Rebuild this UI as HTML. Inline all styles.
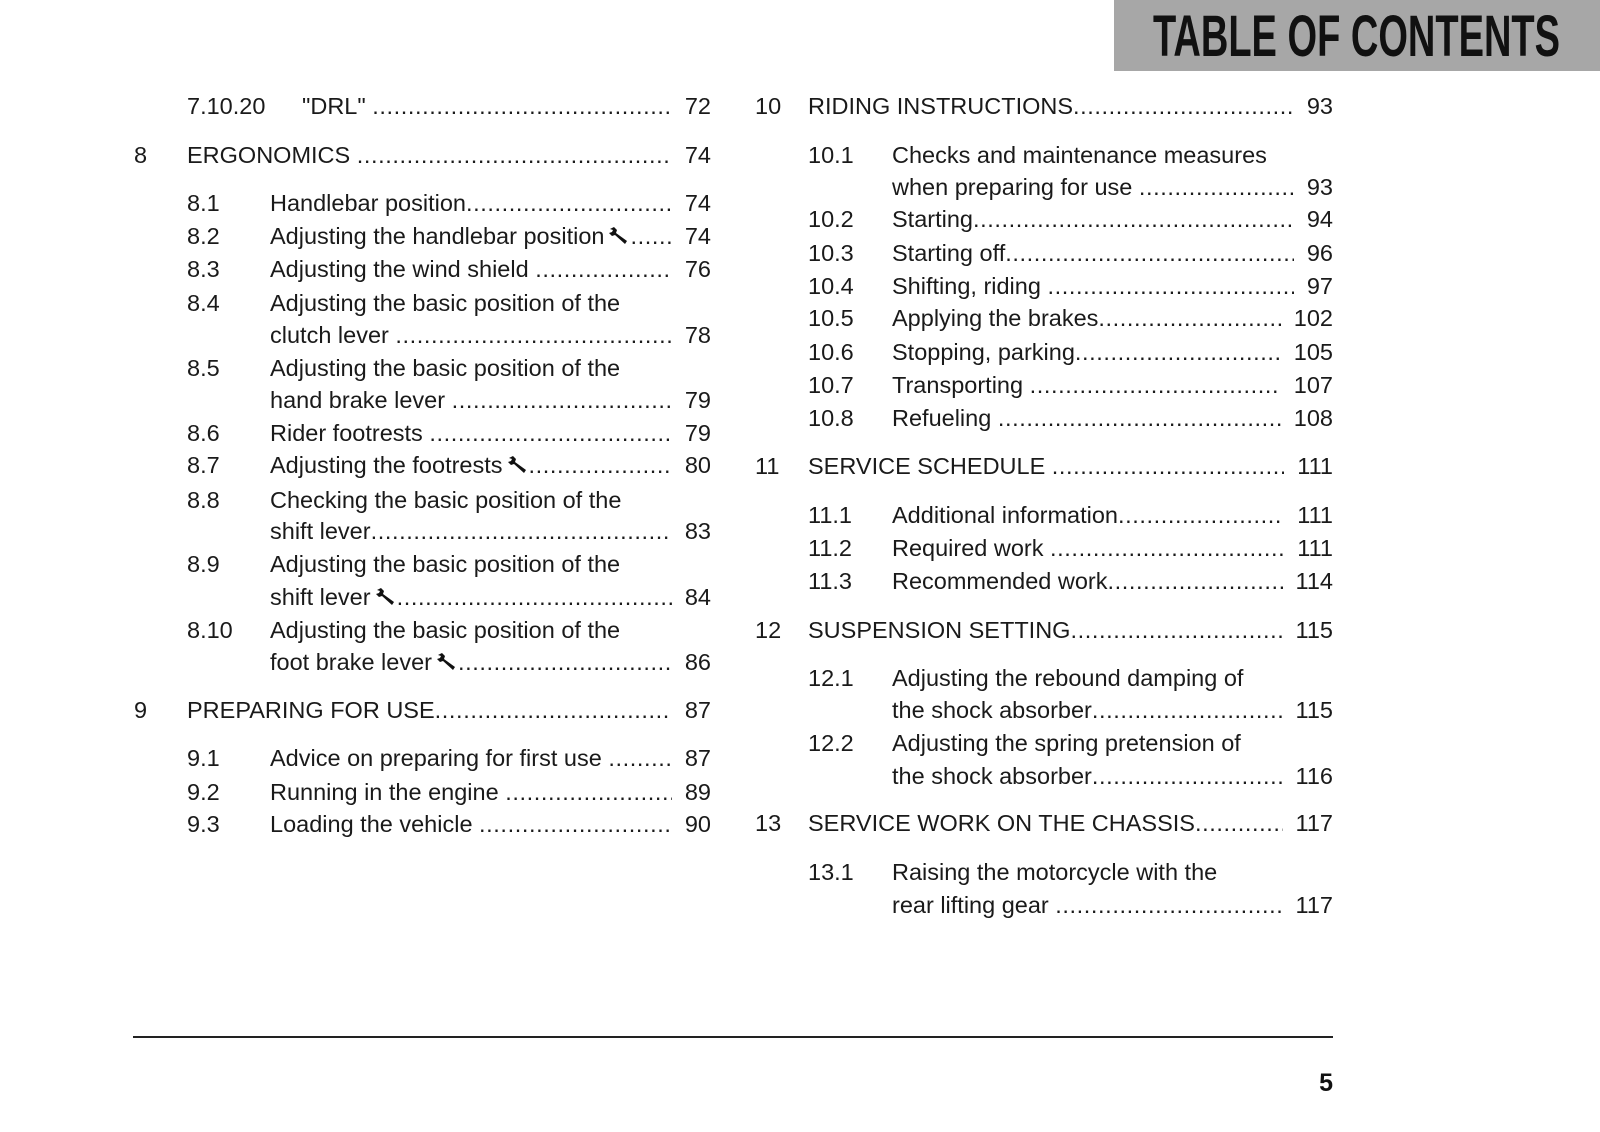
<!DOCTYPE html>
<html><head><meta charset="utf-8"><style>
html,body{margin:0;padding:0;background:#fff}
body{width:1600px;height:1132px;position:relative;overflow:hidden;font-family:"Liberation Sans",sans-serif;color:#1a1a1a;font-size:23.5px}
.hdr{position:absolute;left:1114px;top:0;width:486px;height:71px;background:#a7a7a7}
#tt{position:absolute;left:1153px;top:8px;font-weight:bold;font-size:58px;line-height:58px;color:#111;white-space:nowrap;transform-origin:0 0;font-family:"Liberation Sans",sans-serif}
.n,.r{position:absolute;line-height:28px;white-space:nowrap}
.r{display:flex}
.r .t{flex:none}
.r .d{flex:1 1 auto;overflow:hidden;white-space:nowrap;letter-spacing:0.6px}
.r .p{flex:none;padding-left:13px}
.w{display:inline-block;width:22px;height:20px;vertical-align:-2px;margin-left:4px}
</style></head><body>
<div class="hdr"></div>
<span id="tt">TABLE OF CONTENTS</span>

<div class="n" style="left:187px;top:92px">7.10.20</div>
<div class="r" style="left:302px;top:92px;width:409px"><span class="t">"DRL"&nbsp;</span><span class="d">....................................................................................................</span><span class="p">72</span></div>

<div class="n" style="left:134px;top:141px">8</div>
<div class="r" style="left:187px;top:141px;width:524px"><span class="t">ERGONOMICS&nbsp;</span><span class="d">....................................................................................................</span><span class="p">74</span></div>

<div class="n" style="left:187px;top:189px">8.1</div>
<div class="r" style="left:270px;top:189px;width:441px"><span class="t">Handlebar position</span><span class="d">....................................................................................................</span><span class="p">74</span></div>
<div class="n" style="left:187px;top:222px">8.2</div>
<div class="r" style="left:270px;top:222px;width:441px"><span class="t">Adjusting the handlebar position<svg class="w" viewBox="0 0 22 20"><path d="M2 3 L6 1 L9 4 L8 7 L19 15 L17 18 L7 9 L4 10 L1 7 L4 6 L5 4 Z" fill="#111"/></svg></span><span class="d">....................................................................................................</span><span class="p">74</span></div>
<div class="n" style="left:187px;top:255px">8.3</div>
<div class="r" style="left:270px;top:255px;width:441px"><span class="t">Adjusting the wind shield&nbsp;</span><span class="d">....................................................................................................</span><span class="p">76</span></div>
<div class="n" style="left:187px;top:289px">8.4</div>
<div class="n" style="left:270px;top:289px">Adjusting the basic position of the</div>
<div class="r" style="left:270px;top:321px;width:441px"><span class="t">clutch lever&nbsp;</span><span class="d">....................................................................................................</span><span class="p">78</span></div>
<div class="n" style="left:187px;top:354px">8.5</div>
<div class="n" style="left:270px;top:354px">Adjusting the basic position of the</div>
<div class="r" style="left:270px;top:386px;width:441px"><span class="t">hand brake lever&nbsp;</span><span class="d">....................................................................................................</span><span class="p">79</span></div>
<div class="n" style="left:187px;top:419px">8.6</div>
<div class="r" style="left:270px;top:419px;width:441px"><span class="t">Rider footrests&nbsp;</span><span class="d">....................................................................................................</span><span class="p">79</span></div>
<div class="n" style="left:187px;top:451px">8.7</div>
<div class="r" style="left:270px;top:451px;width:441px"><span class="t">Adjusting the footrests<svg class="w" viewBox="0 0 22 20"><path d="M2 3 L6 1 L9 4 L8 7 L19 15 L17 18 L7 9 L4 10 L1 7 L4 6 L5 4 Z" fill="#111"/></svg></span><span class="d">....................................................................................................</span><span class="p">80</span></div>
<div class="n" style="left:187px;top:486px">8.8</div>
<div class="n" style="left:270px;top:486px">Checking the basic position of the</div>
<div class="r" style="left:270px;top:517px;width:441px"><span class="t">shift lever</span><span class="d">....................................................................................................</span><span class="p">83</span></div>
<div class="n" style="left:187px;top:550px">8.9</div>
<div class="n" style="left:270px;top:550px">Adjusting the basic position of the</div>
<div class="r" style="left:270px;top:583px;width:441px"><span class="t">shift lever<svg class="w" viewBox="0 0 22 20"><path d="M2 3 L6 1 L9 4 L8 7 L19 15 L17 18 L7 9 L4 10 L1 7 L4 6 L5 4 Z" fill="#111"/></svg></span><span class="d">....................................................................................................</span><span class="p">84</span></div>
<div class="n" style="left:187px;top:616px">8.10</div>
<div class="n" style="left:270px;top:616px">Adjusting the basic position of the</div>
<div class="r" style="left:270px;top:648px;width:441px"><span class="t">foot brake lever<svg class="w" viewBox="0 0 22 20"><path d="M2 3 L6 1 L9 4 L8 7 L19 15 L17 18 L7 9 L4 10 L1 7 L4 6 L5 4 Z" fill="#111"/></svg></span><span class="d">....................................................................................................</span><span class="p">86</span></div>

<div class="n" style="left:134px;top:696px">9</div>
<div class="r" style="left:187px;top:696px;width:524px"><span class="t">PREPARING FOR USE</span><span class="d">....................................................................................................</span><span class="p">87</span></div>
<div class="n" style="left:187px;top:744px">9.1</div>
<div class="r" style="left:270px;top:744px;width:441px"><span class="t">Advice on preparing for first use&nbsp;</span><span class="d">....................................................................................................</span><span class="p">87</span></div>
<div class="n" style="left:187px;top:778px">9.2</div>
<div class="r" style="left:270px;top:778px;width:441px"><span class="t">Running in the engine&nbsp;</span><span class="d">....................................................................................................</span><span class="p">89</span></div>
<div class="n" style="left:187px;top:810px">9.3</div>
<div class="r" style="left:270px;top:810px;width:441px"><span class="t">Loading the vehicle&nbsp;</span><span class="d">....................................................................................................</span><span class="p">90</span></div>

<div class="n" style="left:755px;top:92px">10</div>
<div class="r" style="left:808px;top:92px;width:525px"><span class="t">RIDING INSTRUCTIONS</span><span class="d">....................................................................................................</span><span class="p">93</span></div>
<div class="n" style="left:808px;top:141px">10.1</div>
<div class="n" style="left:892px;top:141px">Checks and maintenance measures</div>
<div class="r" style="left:892px;top:173px;width:441px"><span class="t">when preparing for use&nbsp;</span><span class="d">....................................................................................................</span><span class="p">93</span></div>
<div class="n" style="left:808px;top:205px">10.2</div>
<div class="r" style="left:892px;top:205px;width:441px"><span class="t">Starting</span><span class="d">....................................................................................................</span><span class="p">94</span></div>
<div class="n" style="left:808px;top:239px">10.3</div>
<div class="r" style="left:892px;top:239px;width:441px"><span class="t">Starting off</span><span class="d">....................................................................................................</span><span class="p">96</span></div>
<div class="n" style="left:808px;top:272px">10.4</div>
<div class="r" style="left:892px;top:272px;width:441px"><span class="t">Shifting, riding&nbsp;</span><span class="d">....................................................................................................</span><span class="p">97</span></div>
<div class="n" style="left:808px;top:304px">10.5</div>
<div class="r" style="left:892px;top:304px;width:441px"><span class="t">Applying the brakes</span><span class="d">....................................................................................................</span><span class="p">102</span></div>
<div class="n" style="left:808px;top:338px">10.6</div>
<div class="r" style="left:892px;top:338px;width:441px"><span class="t">Stopping, parking</span><span class="d">....................................................................................................</span><span class="p">105</span></div>
<div class="n" style="left:808px;top:371px">10.7</div>
<div class="r" style="left:892px;top:371px;width:441px"><span class="t">Transporting&nbsp;</span><span class="d">....................................................................................................</span><span class="p">107</span></div>
<div class="n" style="left:808px;top:404px">10.8</div>
<div class="r" style="left:892px;top:404px;width:441px"><span class="t">Refueling&nbsp;</span><span class="d">....................................................................................................</span><span class="p">108</span></div>

<div class="n" style="left:755px;top:452px">11</div>
<div class="r" style="left:808px;top:452px;width:525px"><span class="t">SERVICE SCHEDULE&nbsp;</span><span class="d">....................................................................................................</span><span class="p">111</span></div>
<div class="n" style="left:808px;top:501px">11.1</div>
<div class="r" style="left:892px;top:501px;width:441px"><span class="t">Additional information</span><span class="d">....................................................................................................</span><span class="p">111</span></div>
<div class="n" style="left:808px;top:534px">11.2</div>
<div class="r" style="left:892px;top:534px;width:441px"><span class="t">Required work&nbsp;</span><span class="d">....................................................................................................</span><span class="p">111</span></div>
<div class="n" style="left:808px;top:567px">11.3</div>
<div class="r" style="left:892px;top:567px;width:441px"><span class="t">Recommended work</span><span class="d">....................................................................................................</span><span class="p">114</span></div>

<div class="n" style="left:755px;top:616px">12</div>
<div class="r" style="left:808px;top:616px;width:525px"><span class="t">SUSPENSION SETTING</span><span class="d">....................................................................................................</span><span class="p">115</span></div>
<div class="n" style="left:808px;top:664px">12.1</div>
<div class="n" style="left:892px;top:664px">Adjusting the rebound damping of</div>
<div class="r" style="left:892px;top:696px;width:441px"><span class="t">the shock absorber</span><span class="d">....................................................................................................</span><span class="p">115</span></div>
<div class="n" style="left:808px;top:729px">12.2</div>
<div class="n" style="left:892px;top:729px">Adjusting the spring pretension of</div>
<div class="r" style="left:892px;top:762px;width:441px"><span class="t">the shock absorber</span><span class="d">....................................................................................................</span><span class="p">116</span></div>

<div class="n" style="left:755px;top:809px">13</div>
<div class="r" style="left:808px;top:809px;width:525px"><span class="t">SERVICE WORK ON THE CHASSIS</span><span class="d">....................................................................................................</span><span class="p">117</span></div>
<div class="n" style="left:808px;top:858px">13.1</div>
<div class="n" style="left:892px;top:858px">Raising the motorcycle with the</div>
<div class="r" style="left:892px;top:891px;width:441px"><span class="t">rear lifting gear&nbsp;</span><span class="d">....................................................................................................</span><span class="p">117</span></div>

<div style="position:absolute;left:133px;top:1036px;width:1200px;height:2px;background:#222"></div>
<div style="position:absolute;right:267px;top:1068px;font-weight:bold;font-size:25px;line-height:30px;color:#111">5</div>
<script>
var t=document.getElementById('tt');var w=t.getBoundingClientRect().width;t.style.transform='scaleX('+(407/w)+')';
</script>
</body></html>
